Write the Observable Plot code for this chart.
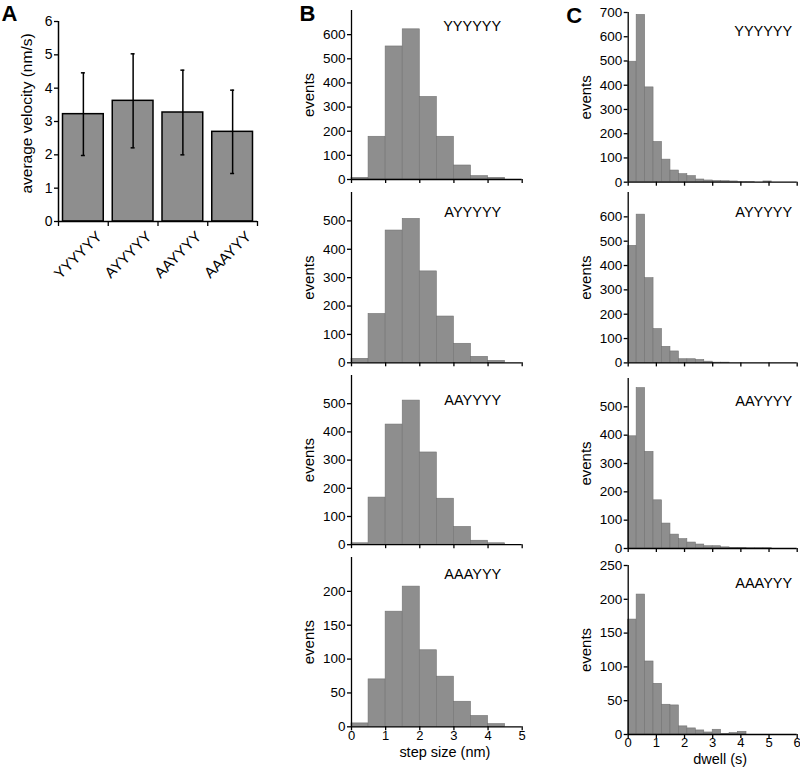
<!DOCTYPE html>
<html>
<head>
<meta charset="utf-8">
<script src="https://cdn.jsdelivr.net/npm/d3@7"></script>
<script src="https://cdn.jsdelivr.net/npm/@observablehq/plot@0.6"></script>
<style>
  html, body { margin: 0; padding: 0; background: #ffffff; }
  #fig { position: relative; width: 800px; height: 767px; overflow: hidden; background: #ffffff; }
  #fig > svg { position: absolute; overflow: visible; }
</style>
</head>
<body>
<div id="fig"></div>
<script>
// ---------------- DATA ----------------
const genotypes = ["YYYYYY", "AYYYYY", "AAYYYY", "AAAYYY"];

// Panel A: average velocity (nm/s), mean and error
const velocityMean = [3.22, 3.62, 3.27, 2.69];
const velocityErr  = [1.24, 1.41, 1.27, 1.25];
const velocityTicks = [0, 1, 2, 3, 4, 5, 6];

// Panel B: step size histograms (bin width 0.5 nm)
const stepBinStart = [0, 0.5, 1, 1.5, 2, 2.5, 3, 3.5, 4, 4.5];
const stepBinWidth = 0.5;
const stepYYYYYY = [7, 177, 551, 622, 342, 177, 58, 14, 7, 0];
const stepAYYYYY = [14, 172, 466, 507, 322, 163, 67, 21, 7, 0];
const stepAAYYYY = [5, 167, 426, 511, 327, 163, 63, 14, 5, 0];
const stepAAAYYY = [5, 70, 170, 207, 113, 74, 37, 16, 4, 0];
const stepXTicks = [0, 1, 2, 3, 4, 5];

// Panel C: dwell histograms (bin width 0.3 s)
const dwellBinStart = [0, 0.3, 0.6, 0.9, 1.2, 1.5, 1.8, 2.1, 2.4, 2.7, 3.0, 3.3, 3.6, 3.9, 4.2, 4.5, 4.8, 5.1, 5.4, 5.7];
const dwellBinWidth = 0.3;
const dwellYYYYYY = [497, 690, 391, 166, 93, 48, 33, 25, 11, 7, 5, 4, 3, 1, 1, 0, 3, 0, 0, 0];
const dwellAYYYYY = [481, 609, 348, 139, 66, 47, 15, 15, 12, 5, 1, 1, 0, 0, 0, 0, 0, 0, 0, 0];
const dwellAAYYYY = [396, 566, 341, 170, 88, 49, 33, 21, 14, 8, 8, 4, 2, 2, 1, 1, 1, 0, 0, 0];
const dwellAAAYYY = [170, 207, 108, 75, 44, 43, 12, 9, 6, 3, 7, 1, 2, 4, 0, 0, 0, 0, 0, 0];
const dwellXTicks = [0, 1, 2, 3, 4, 5, 6];

// y tick sets
const ticks700 = [0, 100, 200, 300, 400, 500, 600, 700];
const ticks600 = [0, 100, 200, 300, 400, 500, 600];
const ticks500 = [0, 100, 200, 300, 400, 500];
const ticks250 = [0, 50, 100, 150, 200, 250];
const ticks200 = [0, 50, 100, 150, 200];

// ---------------- STYLE ----------------
const FONT = "'Liberation Sans', Arial, Helvetica, sans-serif";
const BAR_FILL = "#8e8e8e";
const intFmt = d => String(d);
const fig = document.getElementById("fig");

function place(svg, left, top) {
  svg.style.left = left + "px";
  svg.style.top = top + "px";
  fig.appendChild(svg);
}

// ---------------- PANEL A ----------------
{
  const rows = genotypes.map((g, i) => ({name: g, i, mean: velocityMean[i], err: velocityErr[i]}));
  const svg = Plot.plot({
    width: 270, height: 300,
    marginLeft: 58, marginRight: 13, marginTop: 21, marginBottom: 79,
    style: {fontFamily: FONT, fontSize: "13px", color: "black", background: "transparent", overflow: "visible"},
    x: {domain: [0, genotypes.length], axis: null},
    y: {domain: [0, 6], axis: null},
    marks: [
      Plot.rectY(rows, {x1: d => d.i, x2: d => d.i + 1, y: "mean", insetLeft: 4.5, insetRight: 4.5,
        fill: BAR_FILL, stroke: "black", strokeWidth: 1.5}),
      Plot.ruleX(rows, {x: d => d.i + 0.5, y1: d => d.mean - d.err, y2: d => d.mean + d.err, stroke: "black", strokeWidth: 1.5}),
      Plot.ruleY(rows, {y: d => d.mean + d.err, x1: d => d.i + 0.5, x2: d => d.i + 0.5, insetLeft: -2, insetRight: -2, stroke: "black", strokeWidth: 1.5}),
      Plot.ruleY(rows, {y: d => d.mean - d.err, x1: d => d.i + 0.5, x2: d => d.i + 0.5, insetLeft: -2, insetRight: -2, stroke: "black", strokeWidth: 1.5}),
      Plot.ruleX([0], {stroke: "black", strokeWidth: 1.5}),
      Plot.ruleY([0], {stroke: "black", strokeWidth: 1.5}),
      Plot.axisY({ticks: velocityTicks, tickFormat: intFmt, tickSize: 4, tickPadding: 2, fontSize: 14, label: null, strokeWidth: 1.3}),
      Plot.axisX({ticks: [0, 1, 2, 3, 4], tickSize: 5, tickFormat: () => "", label: null, strokeWidth: 1.3}),
      Plot.text(rows, {x: d => d.i + 0.5, y: 0, text: "name", rotate: -45, textAnchor: "end", lineAnchor: "middle",
        dx: 16, dy: 12.5, fontSize: 15}),
      Plot.text(["average velocity (nm/s)"], {frameAnchor: "left", rotate: -90, textAnchor: "middle", lineAnchor: "middle",
        dx: -31, dy: -8, fontSize: 15.5}),
      Plot.text(["A"], {frameAnchor: "top-left", textAnchor: "start", lineAnchor: "top", dx: -57, dy: -16,
        fontSize: 22, fontWeight: "bold"})
    ]
  });
  place(svg, 0, 0);
}

// ---------------- HISTOGRAMS ----------------
function histogram(cfg) {
  const rows = cfg.starts.map((s, i) => ({x1: s, x2: s + cfg.binWidth, count: cfg.counts[i]})).filter(d => d.count > 0);
  const svgLeft = cfg.svgLeft, svgWidth = 240;
  const svgTop = cfg.frameTop - 10;
  const marginTop = cfg.frameTop - svgTop;
  const marginBottom = cfg.showX ? 767 - cfg.frameBottom : 8;
  const height = marginTop + (cfg.frameBottom - cfg.frameTop) + marginBottom;
  const marks = [
    Plot.rectY(rows, {x1: "x1", x2: "x2", y: "count", fill: BAR_FILL, stroke: "#727272", strokeWidth: 0.6}),
    Plot.ruleX([0], {stroke: "black", strokeWidth: 1.3}),
    Plot.ruleY([0], {stroke: "black", strokeWidth: 1.3}),
    Plot.axisY({ticks: cfg.yTicks, tickFormat: intFmt, tickSize: 4, tickPadding: 2, fontSize: 13.5, label: null, strokeWidth: 1.3}),
    cfg.showX
      ? Plot.axisX({ticks: cfg.xTicks, tickFormat: intFmt, tickSize: 4, tickPadding: cfg.xTickPadding, fontSize: 13, label: null, strokeWidth: 1.3})
      : Plot.axisX({ticks: cfg.xTicks, tickSize: 4, tickFormat: () => "", label: null, strokeWidth: 1.3}),
    Plot.text([cfg.name], {frameAnchor: "top-right", textAnchor: "end", lineAnchor: "top", dx: cfg.nameDx, dy: cfg.nameDy, fontSize: 14.5}),
    Plot.text(["events"], {frameAnchor: "left", rotate: -90, textAnchor: "middle", lineAnchor: "middle", dx: cfg.eventsDx, fontSize: 15})
  ];
  if (cfg.showX) {
    marks.push(Plot.text([cfg.xLabel], {frameAnchor: "bottom", textAnchor: "middle", lineAnchor: "middle", dx: cfg.xLabelDx, dy: cfg.xLabelDy, fontSize: 14.5}));
  }
  if (cfg.letter) {
    marks.push(Plot.text([cfg.letter], {frameAnchor: "top-left", textAnchor: "start", lineAnchor: "top", dx: cfg.letterDx, dy: cfg.letterDy, fontSize: 22, fontWeight: "bold"}));
  }
  const svg = Plot.plot({
    width: svgWidth, height,
    marginLeft: cfg.frameLeft - svgLeft, marginRight: svgLeft + svgWidth - cfg.frameRight,
    marginTop, marginBottom,
    style: {fontFamily: FONT, fontSize: "13px", color: "black", background: "transparent", overflow: "visible"},
    x: {domain: cfg.xDomain, axis: null},
    y: {domain: [0, cfg.yMax], axis: null},
    marks
  });
  place(svg, svgLeft, svgTop);
}

// Panel B (step size)
const bCommon = {svgLeft: 290, frameLeft: 351, frameRight: 521.7, xDomain: [0, 5], starts: stepBinStart, binWidth: stepBinWidth,
  xTicks: stepXTicks, xTickPadding: 0, nameDx: -21, eventsDx: -42, xLabel: "step size (nm)", xLabelDx: 8, xLabelDy: 25.5};
histogram({...bCommon, name: genotypes[0], counts: stepYYYYYY, frameTop: 10, frameBottom: 179, yMax: 700, yTicks: ticks600, nameDy: 10.7,
  letter: "B", letterDx: -52, letterDy: -5});
histogram({...bCommon, name: genotypes[1], counts: stepAYYYYY, frameTop: 192, frameBottom: 362.3, yMax: 600, yTicks: ticks500, nameDy: 14.7});
histogram({...bCommon, name: genotypes[2], counts: stepAAYYYY, frameTop: 374.5, frameBottom: 543.7, yMax: 600, yTicks: ticks500, nameDy: 18.8});
histogram({...bCommon, name: genotypes[3], counts: stepAAAYYY, frameTop: 556.7, frameBottom: 726, yMax: 250, yTicks: ticks200, nameDy: 11.6, showX: true});

// Panel C (dwell)
const cCommon = {svgLeft: 560, frameLeft: 627.7, frameRight: 796.7, xDomain: [0, 6], starts: dwellBinStart, binWidth: dwellBinWidth,
  xTicks: dwellXTicks, xTickPadding: -1, nameDx: -5, eventsDx: -41.7, xLabel: "dwell (s)", xLabelDx: 7.5, xLabelDy: 24.5};
histogram({...cCommon, name: genotypes[0], counts: dwellYYYYYY, frameTop: 12, frameBottom: 181.7, yMax: 700, yTicks: ticks700, nameDy: 13,
  letter: "C", letterDx: -62, letterDy: -5});
histogram({...cCommon, name: genotypes[1], counts: dwellAYYYYY, frameTop: 192.3, frameBottom: 362.7, yMax: 700, yTicks: ticks600, nameDy: 14.4});
histogram({...cCommon, name: genotypes[2], counts: dwellAAYYYY, frameTop: 378.3, frameBottom: 548.3, yMax: 600, yTicks: ticks500, nameDy: 17.7});
histogram({...cCommon, name: genotypes[3], counts: dwellAAAYYY, frameTop: 565, frameBottom: 734, yMax: 250, yTicks: ticks250, nameDy: 12.3, showX: true});
</script>
</body>
</html>
